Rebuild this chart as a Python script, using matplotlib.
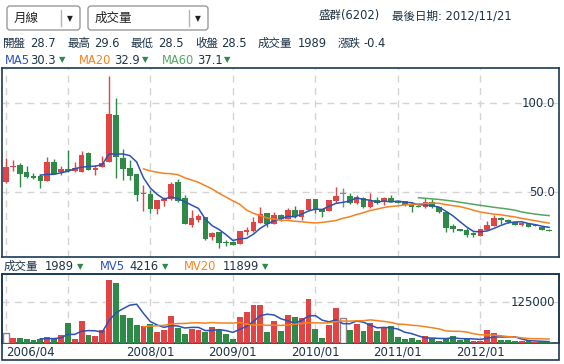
import matplotlib.pyplot as plt
from matplotlib.patches import Rectangle, FancyBboxPatch
import numpy as np
import pandas as pd

plt.rcParams['font.family'] = ['DejaVu Sans', 'Noto Sans CJK TC']

# monthly candles 2006/04 .. 2012/11
opens = [56.0, 64.2, 65.3, 61.4, 59.2, 59.3, 56.5, 67.0, 61.4, 63.1,
         62.0, 61.6, 71.9, 62.7, 64.4, 67.0, 93.6, 69.3, 63.7, 60.3,
         49.2, 49.0, 40.8, 45.0, 46.1, 55.8, 46.6, 31.8, 34.6, 36.0,
         24.7, 27.8, 22.2, 22.1, 21.1, 27.6, 28.4, 32.9, 38.2, 32.2,
         37.3, 35.0, 40.0, 36.3, 40.0, 46.1, 40.4, 39.7, 45.3, 49.2,
         47.9, 43.8, 47.0, 41.6, 45.6, 45.3, 46.6, 44.7, 45.0, 43.5,
         42.3, 41.6, 44.5, 41.6, 38.8, 31.2, 29.4, 28.8, 27.3, 25.7,
         28.8, 31.2, 35.7, 34.7, 33.3, 32.1, 32.6, 31.3, 30.7, 28.7]
highs = [69.1, 68.1, 66.3, 65.0, 61.0, 60.3, 69.7, 68.5, 65.0, 73.8,
         67.0, 73.4, 72.9, 65.5, 70.4, 115.3, 102.8, 74.2, 68.1, 60.3,
         54.0, 51.3, 45.7, 47.5, 55.8, 57.3, 48.5, 40.0, 37.6, 36.0,
         27.9, 27.8, 23.2, 22.8, 28.3, 30.3, 36.0, 41.8, 38.5, 39.2,
         37.8, 41.0, 42.3, 40.0, 46.1, 46.1, 40.4, 45.6, 53.1, 52.2,
         49.8, 48.5, 47.2, 49.4, 47.5, 47.2, 48.5, 45.0, 45.2, 44.7,
         42.6, 46.6, 46.1, 41.8, 38.9, 32.2, 29.6, 29.8, 27.5, 29.3,
         33.8, 37.3, 35.9, 35.0, 33.5, 33.1, 32.8, 31.6, 30.9, 29.6]
lows = [55.4, 61.9, 52.8, 58.2, 57.5, 52.2, 56.3, 60.5, 59.5, 61.6,
        61.6, 61.4, 62.5, 59.5, 64.0, 67.0, 58.2, 56.7, 56.9, 45.1,
        39.4, 38.2, 37.6, 42.3, 45.7, 44.8, 32.4, 30.7, 33.5, 23.2,
        23.2, 18.5, 19.8, 20.2, 20.8, 26.0, 27.9, 32.6, 30.7, 32.2,
        34.0, 35.0, 35.4, 34.4, 40.0, 38.2, 36.3, 39.7, 43.8, 41.9,
        43.5, 43.5, 41.3, 41.3, 43.5, 42.9, 44.5, 44.0, 42.3, 38.8,
        41.5, 41.4, 41.3, 38.6, 27.6, 27.9, 28.2, 25.1, 24.7, 25.5,
        28.6, 31.0, 32.4, 33.0, 31.4, 31.1, 30.5, 30.8, 28.7, 28.5]
closes = [64.0, 64.6, 60.5, 58.6, 58.0, 56.3, 67.0, 60.5, 63.1, 62.0,
          63.8, 71.0, 62.7, 63.8, 66.5, 94.2, 69.8, 63.3, 59.3, 48.7,
          49.5, 40.8, 45.7, 46.2, 54.5, 45.1, 32.4, 35.8, 36.9, 23.9,
          27.1, 21.7, 21.4, 20.6, 28.2, 29.0, 33.3, 38.0, 32.4, 37.3,
          34.8, 40.0, 36.5, 40.0, 46.1, 40.0, 39.1, 45.6, 47.9, 49.2,
          43.8, 47.5, 41.6, 45.6, 43.8, 47.0, 44.8, 44.2, 42.6, 41.8,
          41.7, 44.3, 41.6, 38.8, 30.2, 29.1, 28.4, 26.1, 26.2, 29.2,
          31.6, 35.6, 34.4, 33.3, 31.6, 32.3, 30.7, 31.1, 28.9, 28.5]
volumes = [29700, 15400, 15400, 12300, 9200, 12300, 18400, 15400, 24600, 61400,
           12300, 67600, 24600, 21500, 39900, 193500, 184300, 86000, 76800, 55300,
           52200, 58300, 33800, 39900, 82900, 46100, 27600, 43000, 39900, 33800,
           49100, 39900, 27600, 12300, 79800, 95200, 116700, 116700, 33800, 67600,
           36800, 86000, 79800, 76800, 135100, 43000, 15400, 55300, 107500, 76800,
           39900, 58300, 36800, 61400, 36800, 46100, 52200, 18400, 12300, 15400,
           10000, 22000, 16000, 7000, 13000, 22000, 10000, 13000, 5000, 5000,
           40000, 31000, 10000, 8000, 7000, 5000, 8000, 3100, 3000, 1989]
vol_dir = "nrggggrgrg" "rrgrrrgggg" "rgrrrggrrg" "rgggrrrrgr" \
          "grgrrggrrn" "grgrgrgggg" "grggggggrr" "rrgggrgrgg"

tick_idx = [0, 9, 21, 33, 45, 57, 69]
tick_lab = ['2006/04', '', '2008/01', '2009/01', '2010/01', '2011/01', '2012/01']

RED = '#e04444'
GREEN = '#2f8a48'
GRAY = '#888888'
BLUE = '#2c52b6'
ORANGE = '#f5821f'
MAGREEN = '#55a663'
NAVY = '#1b3a57'
TXT = '#1d3346'
GRID = '#d4d4d4'

W, H = 564, 364
fig = plt.figure(figsize=(W / 100, H / 100), dpi=100)


def box(x0, y0, x1, y1):
    return [x0 / W, 1 - y1 / H, (x1 - x0) / W, (y1 - y0) / H]


x = np.arange(len(closes))
o = np.array(opens)
c = np.array(closes)
ccol = np.where(c > o, RED, np.where(c < o, GREEN, GRAY))

# price panel
ax = fig.add_axes(box(2, 68, 559, 257))
ax.vlines(x, lows, highs, colors=ccol, lw=1, zorder=3)
body = np.abs(c - o)
bot = np.where(body < 0.5, (o + c) / 2 - 0.3, np.minimum(o, c))
ax.bar(x, np.maximum(body, 0.6), bottom=bot, width=0.82, color=ccol, lw=0, zorder=4)

cs = pd.Series(closes)
for n, col in [(5, BLUE), (20, ORANGE), (60, MAGREEN)]:
    ma = cs.rolling(n).mean()
    ma[:n] = np.nan
    ax.plot(x, ma, color=col, lw=1.1, zorder=5)

ax.set_xlim(-0.58, 80.44)
ax.set_ylim(13.65, 119.8)
ax.set_xticks(tick_idx)
ax.set_yticks([50, 100])
ax.grid(True, color=GRID, ls=(0, (5, 4)), lw=1)
ax.tick_params(length=0, labelbottom=False, labelleft=False)
for sp in ax.spines.values():
    sp.set_color(NAVY)
    sp.set_linewidth(1.2)
for v in [100, 50]:
    ax.text(0.993, v, '%.1f' % v, transform=ax.get_yaxis_transform(),
            ha='right', va='center', fontsize=8.5, color=TXT, zorder=6)

# volume panel
vx = fig.add_axes(box(2, 274, 559, 343))
vcol = [RED if d == 'r' else GREEN if d == 'g' else 'white' for d in vol_dir]
vedge = [GRAY if d == 'n' else 'none' for d in vol_dir]
vx.bar(x, volumes, width=0.85, color=vcol, edgecolor=vedge, lw=1, zorder=3)
vs = pd.Series(volumes)
for n, col in [(5, BLUE), (20, ORANGE)]:
    mv = vs.rolling(n).mean()
    mv[:n] = np.nan
    vx.plot(x, mv, color=col, lw=1.1, zorder=5)
vx.set_xlim(-0.58, 80.44)
vx.set_ylim(0, 211900)
vx.set_xticks(tick_idx)
vx.set_xticklabels(tick_lab, fontsize=8.5, color=TXT)
vx.get_xticklabels()[0].set_ha('left')
vx.set_yticks([125000])
vx.grid(True, color=GRID, ls=(0, (5, 4)), lw=1)
vx.tick_params(length=0, pad=2, labelleft=False)
for sp in vx.spines.values():
    sp.set_color(NAVY)
    sp.set_linewidth(1.2)
vx.text(0.993, 125000, '125000', transform=vx.get_yaxis_transform(),
        ha='right', va='center', fontsize=8.5, color=TXT, zorder=6)

# overlay in pixel coordinates for header and frames
ov = fig.add_axes([0, 0, 1, 1])
ov.set_xlim(0, W)
ov.set_ylim(H, 0)
ov.axis('off')
ov.add_patch(Rectangle((2, 274), 557, 86, fill=False, ec=NAVY, lw=1.2))

for bx0, bx1, div, label in [(7, 80, 61, '月線'), (88, 208, 189, '成交量')]:
    ov.add_patch(FancyBboxPatch((bx0, 6), bx1 - bx0, 24,
                                boxstyle='round,pad=0,rounding_size=3',
                                fc='white', ec='#9a9a9a', lw=1))
    ov.plot([div, div], [10, 26], color='#b5b5b5', lw=1)
    ov.text(div + 9, 18.5, '▼', fontsize=5.5, color='#222222', ha='center', va='center')
    ov.text(bx0 + 7, 18, label, fontsize=9, color='#222222', va='center')

ov.text(318, 16, '盛群(6202)', fontsize=8.3, color=TXT, va='center')
ov.text(512, 16, '最後日期: 2012/11/21', fontsize=8.3, color=TXT, va='center', ha='right')

info = [(3, '開盤'), (30, '28.7'), (68, '最高'), (94, '29.6'), (131, '最低'),
        (158, '28.5'), (195, '收盤'), (221, '28.5'), (258, '成交量'),
        (298, '1989'), (338, '漲跌'), (363, '-0.4')]
for px, s in info:
    ov.text(px, 43.5, s, fontsize=8.3, color=TXT, va='center')

ma_row = [(5, 'MA5', BLUE), (30, '30.3', TXT), (59, '▼', GREEN),
          (79, 'MA20', ORANGE), (114, '32.9', TXT), (142, '▼', GREEN),
          (162, 'MA60', MAGREEN), (197, '37.1', TXT), (224, '▼', GREEN)]
for px, s, col in ma_row:
    ov.text(px, 60, s, fontsize=6 if s == '▼' else 8.3, color=col, va='center')

vol_row = [(4, '成交量', TXT), (45, '1989', TXT), (77, '▼', GREEN),
           (100, 'MV5', BLUE), (129, '4216', TXT), (162, '▼', GREEN),
           (184, 'MV20', ORANGE), (223, '11899', TXT), (262, '▼', GREEN)]
for px, s, col in vol_row:
    ov.text(px, 266.5, s, fontsize=6 if s == '▼' else 8.3, color=col, va='center')

fig.savefig('out.png', dpi=100)
